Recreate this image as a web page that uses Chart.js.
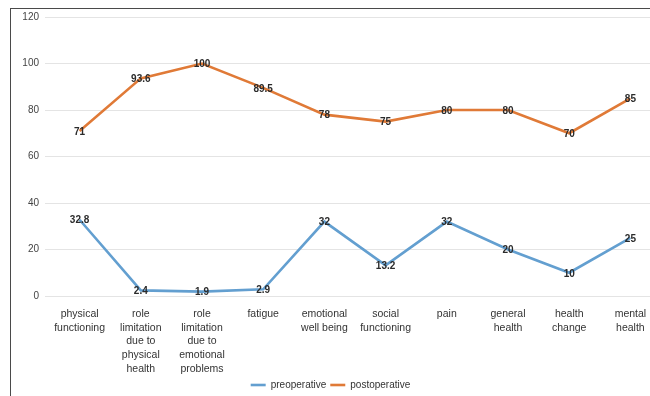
<!DOCTYPE html>
<html>
<head>
<meta charset="utf-8">
<script src="https://cdn.jsdelivr.net/npm/chart.js@4"></script>
<style>
  html, body { margin: 0; padding: 0; background: #fff; overflow: hidden; }
  body { width: 650px; height: 396px; position: relative; }
  #wrap { position: absolute; left: 0; top: 0; width: 670px; height: 396px; }
  #frame { position: absolute; left: 10px; top: 8px; width: 700px; height: 420px;
           border-left: 1.5px solid #4a4a4a; border-top: 1.5px solid #4a4a4a; pointer-events: none; }
</style>
</head>
<body>
<div id="wrap"><canvas id="c" width="670" height="396"></canvas></div>
<div id="frame"></div>
<script>
// SF-36 domain categories (multi-line axis labels)
const categories = [
  ['physical', 'functioning'],
  ['role', 'limitation', 'due to', 'physical', 'health'],
  ['role', 'limitation', 'due to', 'emotional', 'problems'],
  ['fatigue'],
  ['emotional', 'well being'],
  ['social', 'functioning'],
  ['pain'],
  ['general', 'health'],
  ['health', 'change'],
  ['mental', 'health']
];
const preoperative = [32.8, 2.4, 1.9, 2.9, 32, 13.2, 32, 20, 10, 25];
const postoperative = [71, 93.6, 100, 89.5, 78, 75, 80, 80, 70, 85];
const yTicks = [0, 20, 40, 60, 80, 100, 120];

const FONT = "'Liberation Sans', Arial, sans-serif";

// draws each value as text centred on its point
const valueLabels = {
  id: 'valueLabels',
  afterDatasetsDraw(chart) {
    const ctx = chart.ctx;
    ctx.save();
    ctx.font = "bold 10px " + FONT;
    ctx.fillStyle = '#2b2b2b';
    ctx.textAlign = 'center';
    ctx.textBaseline = 'middle';
    chart.data.datasets.forEach((ds, i) => {
      chart.getDatasetMeta(i).data.forEach((pt, j) => {
        ctx.fillText(String(ds.data[j]), pt.x, pt.y + 1);
      });
    });
    ctx.restore();
  }
};

// keeps the legend band at a fixed height
const legendHeight = {
  id: 'legendHeight',
  beforeInit(chart) {
    const lg = chart.legend;
    if (!lg) return;
    const fit = lg.fit;
    lg.fit = function () { fit.call(this); this.height = 20; };
  }
};

new Chart(document.getElementById('c'), {
  type: 'line',
  data: {
    labels: categories,
    datasets: [
      { label: 'preoperative', data: preoperative, borderColor: '#639fd0', backgroundColor: '#639fd0',
        borderWidth: 2.6, pointRadius: 0, tension: 0 },
      { label: 'postoperative', data: postoperative, borderColor: '#e07a37', backgroundColor: '#e07a37',
        borderWidth: 2.6, pointRadius: 0, tension: 0 }
    ]
  },
  options: {
    responsive: false,
    animation: false,
    layout: { padding: { top: 17, right: 9, left: 0, bottom: 0 } },
    plugins: {
      tooltip: { enabled: false },
      legend: {
        position: 'bottom',
        labels: {
          usePointStyle: true, pointStyle: 'line', pointStyleWidth: 15, boxHeight: 2,
          font: { family: FONT, size: 10 }, color: '#333', padding: 4
        }
      }
    },
    scales: {
      x: {
        offset: true,
        grid: { display: false },
        border: { display: false },
        ticks: { font: { family: FONT, size: 10.5, lineHeight: 1.31 }, color: '#333',
                 maxRotation: 0, autoSkip: false, padding: 3 },
        afterFit(s) { s.height = 80; }
      },
      y: {
        min: 0, max: 120,
        afterBuildTicks(s) { s.ticks = yTicks.map(v => ({ value: v })); },
        grid: { color: '#e4e4e4', lineWidth: 1, drawTicks: true, tickLength: 4 },
        border: { display: false },
        ticks: { font: { family: FONT, size: 10 }, color: '#444', padding: 6 },
        afterFit(s) { s.width = 49; }
      }
    }
  },
  plugins: [valueLabels, legendHeight]
});
</script>
</body>
</html>
